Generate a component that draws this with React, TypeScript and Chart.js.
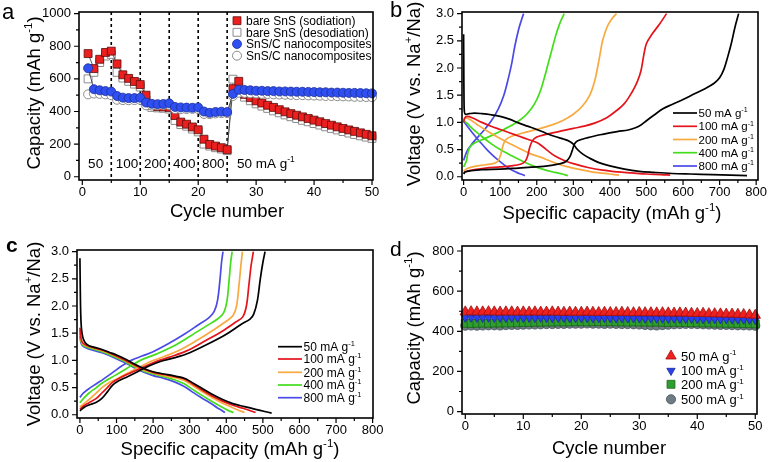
import React, { useEffect, useRef } from 'react';
import { Chart, registerables } from 'chart.js';
Chart.register(...registerables);

const FONT = '"Liberation Sans", Arial, Helvetica, sans-serif';

// ---------------- Panel a : rate capability ----------------
const cyclesA = [1, 2, 3, 4, 5, 6, 7, 8, 9, 10, 11, 12, 13, 14, 15, 16, 17, 18, 19, 20, 21, 22, 23, 24, 25,
  26, 27, 28, 29, 30, 31, 32, 33, 34, 35, 36, 37, 38, 39, 40, 41, 42, 43, 44, 45, 46, 47, 48, 49, 50];
const bareSodiation = [755, 663, 720, 762, 770, 692, 625, 603, 584, 565, 500, 440, 430, 428, 425, 375, 335, 322, 305, 288,
  230, 198, 188, 178, 166, 540, 585, 505, 485, 465, 452, 438, 425, 411, 398, 387, 377, 367, 357, 347,
  337, 326, 316, 306, 296, 287, 278, 269, 260, 251];
const bareDesodiation = [600, 640, 700, 740, 750, 640, 605, 585, 568, 550, 470, 425, 422, 420, 415, 345, 320, 310, 292, 275,
  200, 188, 178, 170, 160, 598, 545, 488, 466, 447, 433, 419, 404, 392, 379, 368, 357, 346, 337, 326,
  317, 306, 296, 287, 277, 268, 259, 251, 243, 235];
const compositeSodiation = [665, 537, 530, 525, 522, 495, 485, 482, 482, 484, 455, 447, 445, 446, 450, 428, 425, 424, 423, 425,
  400, 392, 397, 399, 397, 508, 533, 532, 530, 527, 527, 525, 525, 523, 523, 522, 521, 521, 520, 519,
  518, 518, 516, 516, 515, 514, 514, 513, 512, 511];
const compositeDesodiation = [505, 510, 508, 505, 500, 472, 470, 469, 470, 472, 438, 437, 438, 440, 440, 415, 414, 415, 416, 415,
  385, 384, 388, 390, 390, 495, 515, 514, 512, 510, 508, 507, 505, 504, 503, 502, 500, 500, 499, 498,
  497, 495, 495, 494, 493, 492, 490, 490, 489, 488];
const legendA = ['bare SnS (sodiation)', 'bare SnS (desodiation)', 'SnS/C nanocomposites', 'SnS/C nanocomposites'];
const rateDividers = [5, 10, 15, 20, 25];
const rateLabels = ['50', '100', '200', '400', '800'];
const rateLabelCycles = [2.3, 7.7, 12.6, 17.6, 22.6];
const lastRateLabelCycle = 26.7;
const rateLabelLevel = 55;
const cycleTicks = [0, 10, 20, 30, 40, 50];
const capacityTicksA = [0, 200, 400, 600, 800, 1000];

// ---------------- Panel b : bare SnS voltage profiles ----------------
type XY = [number, number][];
const b50Dis: XY = [[0, 2.62], [0.5, 2.0], [1, 1.5], [2, 1.2], [5, 1.15], [15, 1.16], [30, 1.17], [50, 1.16], [75, 1.14], [100, 1.11],
  [125, 1.06], [150, 0.99], [175, 0.93], [200, 0.87], [225, 0.8], [250, 0.74], [275, 0.69], [290, 0.65], [300, 0.6], [310, 0.51],
  [325, 0.42], [345, 0.34], [370, 0.26], [400, 0.2], [440, 0.14], [480, 0.1], [520, 0.08], [570, 0.06], [620, 0.05], [680, 0.04],
  [730, 0.03], [775, 0.02]];
const b50Chg: XY = [[0, 0.05], [5, 0.09], [20, 0.11], [50, 0.13], [100, 0.14], [150, 0.16], [200, 0.18], [240, 0.21], [265, 0.24],
  [280, 0.28], [290, 0.36], [297, 0.48], [303, 0.6], [312, 0.66], [340, 0.72], [380, 0.78], [420, 0.83], [450, 0.86], [470, 0.9],
  [485, 0.95], [500, 1.03], [520, 1.13], [545, 1.25], [570, 1.33], [600, 1.42], [630, 1.52], [660, 1.62], [685, 1.72], [700, 1.82],
  [712, 1.98], [722, 2.2], [732, 2.45], [742, 2.75], [752, 3.0]];
const b100Dis: XY = [[0, 1.0], [3, 1.08], [10, 1.11], [25, 1.08], [50, 1.0], [75, 0.93], [100, 0.87], [125, 0.81], [150, 0.75],
  [175, 0.69], [200, 0.63], [215, 0.56], [230, 0.48], [250, 0.38], [275, 0.3], [300, 0.24], [340, 0.17], [380, 0.12], [420, 0.09],
  [460, 0.07], [500, 0.05], [540, 0.04], [565, 0.03]];
const b100Chg: XY = [[0, 0.07], [10, 0.1], [30, 0.13], [60, 0.16], [100, 0.18], [130, 0.2], [155, 0.23], [168, 0.28], [175, 0.38],
  [180, 0.52], [188, 0.66], [200, 0.73], [225, 0.78], [260, 0.83], [300, 0.89], [330, 0.93], [360, 0.99], [390, 1.08], [415, 1.2],
  [440, 1.35], [460, 1.55], [475, 1.75], [485, 1.95], [493, 2.25], [500, 2.45], [515, 2.62], [535, 2.8], [555, 3.0]];
const b200Dis: XY = [[0, 1.03], [5, 1.08], [15, 1.06], [35, 0.97], [60, 0.86], [90, 0.74], [120, 0.63], [150, 0.53], [180, 0.43],
  [210, 0.36], [240, 0.28], [280, 0.19], [320, 0.13], [360, 0.08], [400, 0.05], [425, 0.03]];
const b200Chg: XY = [[0, 0.1], [10, 0.15], [30, 0.19], [60, 0.22], [85, 0.25], [95, 0.3], [102, 0.42], [108, 0.58], [115, 0.68],
  [130, 0.74], [160, 0.8], [200, 0.87], [240, 0.95], [270, 1.03], [300, 1.15], [325, 1.3], [345, 1.5], [358, 1.75], [366, 2.0],
  [373, 2.25], [380, 2.5], [392, 2.75], [405, 2.9], [418, 3.0]];
const b400Dis: XY = [[0, 1.04], [10, 0.98], [25, 0.88], [50, 0.74], [75, 0.61], [100, 0.5], [130, 0.39], [160, 0.29], [190, 0.2],
  [220, 0.13], [250, 0.08], [270, 0.05], [285, 0.02]];
const b400Chg: XY = [[0, 0.18], [3, 0.22], [8, 0.3], [12, 0.45], [18, 0.55], [30, 0.62], [50, 0.68], [80, 0.77], [110, 0.87],
  [140, 0.98], [165, 1.1], [185, 1.25], [200, 1.42], [212, 1.62], [222, 1.85], [232, 2.1], [242, 2.35], [252, 2.6], [263, 2.82], [275, 3.0]];
const b800Dis: XY = [[0, 1.02], [10, 0.93], [25, 0.8], [45, 0.64], [65, 0.49], [85, 0.36], [105, 0.25], [125, 0.15], [145, 0.08],
  [160, 0.04], [168, 0.02]];
const b800Chg: XY = [[0, 0.3], [4, 0.38], [10, 0.48], [20, 0.58], [35, 0.7], [55, 0.85], [75, 1.02], [95, 1.25], [110, 1.5],
  [122, 1.8], [132, 2.1], [140, 2.4], [150, 2.7], [158, 2.88], [164, 3.0]];

// ---------------- Panel c : SnS/C voltage profiles ----------------
const c50Dis: XY = [[0, 2.88], [1, 2.3], [2, 1.9], [4, 1.6], [8, 1.42], [15, 1.32], [25, 1.27], [40, 1.24], [60, 1.2], [80, 1.15],
  [100, 1.1], [125, 1.02], [150, 0.93], [175, 0.85], [200, 0.79], [230, 0.75], [260, 0.71], [285, 0.67], [305, 0.6], [330, 0.5],
  [360, 0.38], [390, 0.28], [420, 0.2], [450, 0.15], [480, 0.1], [505, 0.06], [524, 0.03]];
const c50Chg: XY = [[0, 0.07], [10, 0.13], [25, 0.18], [45, 0.23], [60, 0.3], [75, 0.42], [90, 0.55], [105, 0.62], [130, 0.7],
  [160, 0.8], [190, 0.9], [220, 0.98], [260, 1.05], [300, 1.14], [350, 1.3], [400, 1.48], [440, 1.66], [465, 1.76], [475, 1.85],
  [485, 2.1], [493, 2.5], [500, 2.8], [506, 3.0]];
const c100Dis: XY = [[0, 1.6], [3, 1.4], [8, 1.32], [20, 1.27], [40, 1.23], [60, 1.19], [80, 1.14], [100, 1.08], [125, 1.0],
  [150, 0.91], [175, 0.84], [200, 0.78], [230, 0.74], [260, 0.7], [285, 0.66], [305, 0.58], [330, 0.47], [360, 0.35], [390, 0.25],
  [420, 0.17], [450, 0.11], [480, 0.04]];
const c100Chg: XY = [[0, 0.1], [10, 0.16], [25, 0.22], [45, 0.3], [60, 0.4], [75, 0.5], [90, 0.6], [110, 0.68], [135, 0.76],
  [165, 0.85], [205, 0.97], [245, 1.06], [290, 1.17], [340, 1.35], [390, 1.54], [425, 1.7], [445, 1.8], [455, 2.0], [462, 2.4],
  [468, 2.75], [474, 3.0]];
const c200Dis: XY = [[0, 1.55], [3, 1.38], [8, 1.3], [20, 1.26], [40, 1.22], [60, 1.18], [80, 1.13], [100, 1.07], [125, 0.99],
  [150, 0.9], [175, 0.82], [200, 0.77], [230, 0.72], [260, 0.68], [285, 0.63], [305, 0.55], [330, 0.44], [360, 0.32], [390, 0.21],
  [420, 0.12], [450, 0.04]];
const c200Chg: XY = [[0, 0.14], [10, 0.2], [25, 0.28], [45, 0.4], [60, 0.5], [75, 0.57], [95, 0.64], [120, 0.73], [150, 0.83],
  [190, 0.97], [230, 1.07], [270, 1.18], [320, 1.37], [365, 1.56], [400, 1.72], [418, 1.82], [428, 2.0], [435, 2.4], [440, 2.75], [444, 3.0]];
const c400Dis: XY = [[0, 1.5], [3, 1.35], [8, 1.28], [20, 1.24], [40, 1.2], [60, 1.16], [80, 1.11], [100, 1.05], [125, 0.97],
  [150, 0.88], [175, 0.8], [200, 0.75], [230, 0.7], [260, 0.64], [285, 0.57], [305, 0.48], [330, 0.37], [360, 0.25], [385, 0.15],
  [405, 0.08], [420, 0.04]];
const c400Chg: XY = [[0, 0.22], [10, 0.3], [25, 0.4], [45, 0.5], [60, 0.58], [80, 0.66], [105, 0.76], [135, 0.88], [165, 1.0],
  [210, 1.12], [255, 1.26], [300, 1.44], [345, 1.63], [378, 1.77], [393, 1.88], [402, 2.1], [408, 2.5], [412, 2.8], [416, 3.0]];
const c800Dis: XY = [[0, 1.45], [3, 1.32], [8, 1.26], [20, 1.22], [40, 1.18], [60, 1.14], [80, 1.09], [100, 1.03], [125, 0.95],
  [150, 0.86], [175, 0.78], [200, 0.72], [230, 0.67], [260, 0.6], [285, 0.52], [305, 0.43], [330, 0.32], [355, 0.22], [375, 0.13],
  [390, 0.07], [396, 0.04]];
const c800Chg: XY = [[0, 0.32], [10, 0.4], [25, 0.48], [45, 0.57], [65, 0.66], [90, 0.78], [115, 0.9], [140, 1.0], [170, 1.08],
  [200, 1.16], [240, 1.3], [285, 1.48], [325, 1.66], [352, 1.78], [367, 1.9], [376, 2.1], [383, 2.5], [387, 2.8], [391, 3.0]];

const rateNames = ['50', '100', '200', '400', '800'];
const rateColors = ['#000000', '#e3141b', '#f8a940', '#44dd1c', '#4a4ae6'];
const specificCapacityTicks = [0, 100, 200, 300, 400, 500, 600, 700, 800];
const voltageTicks = [0, 0.5, 1.0, 1.5, 2.0, 2.5, 3.0];

// ---------------- Panel d : cycling at fixed rates ----------------
const cyclesD = [0, 1, 2, 3, 4, 5, 6, 7, 8, 9, 10, 11, 12, 13, 14, 15, 16, 17, 18, 19, 20, 21, 22, 23, 24, 25,
  26, 27, 28, 29, 30, 31, 32, 33, 34, 35, 36, 37, 38, 39, 40, 41, 42, 43, 44, 45, 46, 47, 48, 49, 50];
const cap50 = [497, 498, 497, 497, 498, 497, 496, 497, 497, 496, 497, 496, 497, 496, 496, 497, 496, 495, 496, 495, 495, 496, 495,
  494, 495, 494, 494, 495, 494, 493, 494, 493, 493, 492, 493, 492, 491, 492, 491, 490, 489, 490, 488, 488, 487, 486, 486, 485, 484, 482, 480];
const cap100 = [468, 469, 468, 468, 469, 468, 468, 467, 468, 468, 467, 468, 467, 468, 467, 467, 468, 467, 466, 467, 466, 467, 466,
  466, 467, 466, 465, 466, 465, 466, 465, 464, 465, 464, 464, 463, 464, 463, 462, 463, 462, 461, 462, 461, 460, 461, 460, 459, 459, 458, 457];
const cap200 = [440, 439, 440, 441, 440, 441, 441, 442, 442, 443, 444, 444, 445, 445, 446, 446, 447, 447, 447, 448, 448, 447, 448,
  448, 447, 448, 447, 447, 446, 447, 446, 446, 445, 446, 445, 444, 445, 444, 444, 443, 443, 442, 442, 441, 441, 440, 440, 439, 439, 438, 437];
const cap500 = [428, 429, 428, 429, 430, 430, 429, 431, 432, 432, 433, 434, 434, 435, 436, 436, 437, 437, 438, 438, 438, 439, 438,
  438, 437, 438, 437, 436, 436, 435, 434, 432, 430, 429, 431, 433, 435, 436, 437, 437, 436, 435, 434, 433, 432, 432, 431, 430, 430, 429, 428];
const legendD = ['50', '100', '200', '500'];
const capacityTicksD = [0, 200, 400, 600, 800];

// ---------------- helpers ----------------
type Seg = [string, boolean?];
function rich(ctx: CanvasRenderingContext2D, segs: Seg[], x: number, y: number, size: number, align: 'left' | 'center', weight = 'normal') {
  const sup = size * 0.62;
  let w = 0;
  for (const [t, s] of segs) { ctx.font = `${weight} ${s ? sup : size}px ${FONT}`; w += ctx.measureText(t).width; }
  let cx = align === 'center' ? x - w / 2 : x;
  ctx.textAlign = 'left';
  ctx.textBaseline = 'alphabetic';
  for (const [t, s] of segs) {
    ctx.font = `${weight} ${s ? sup : size}px ${FONT}`;
    ctx.fillText(t, cx, s ? y - size * 0.42 : y);
    cx += ctx.measureText(t).width;
  }
}
function richRot(ctx: CanvasRenderingContext2D, segs: Seg[], x: number, y: number, size: number) {
  ctx.save();
  ctx.translate(x, y);
  ctx.rotate(-Math.PI / 2);
  rich(ctx, segs, 0, 0, size, 'center');
  ctx.restore();
}
function marker(ctx: CanvasRenderingContext2D, style: string, x: number, y: number, r: number, fill: string, stroke: string, lw: number, rot = 0) {
  ctx.save();
  ctx.fillStyle = fill; ctx.strokeStyle = stroke; ctx.lineWidth = lw;
  ctx.beginPath();
  if (style === 'rect') {
    const s = r * Math.SQRT1_2;
    ctx.rect(x - s, y - s, 2 * s, 2 * s);
  } else if (style === 'circle') {
    ctx.arc(x, y, r, 0, Math.PI * 2);
  } else {
    let a = (rot * Math.PI) / 180;
    ctx.moveTo(x + Math.sin(a) * r, y - Math.cos(a) * r);
    a += (2 * Math.PI) / 3;
    ctx.lineTo(x + Math.sin(a) * r, y - Math.cos(a) * r);
    a += (2 * Math.PI) / 3;
    ctx.lineTo(x + Math.sin(a) * r, y - Math.cos(a) * r);
    ctx.closePath();
  }
  ctx.fill();
  ctx.stroke();
  ctx.restore();
}
const unitSegs = (rate: string): Seg[] => [[`${rate} mA g`], ['-1', true]];

function axis(pos: 'left' | 'bottom', min: number, max: number, tickValues: number[], fixed: number, pad: number, fmt: (v: number) => string) {
  return {
    type: 'linear',
    position: pos,
    min, max,
    grid: { display: false, drawTicks: false, tickLength: 0 },
    border: { display: false },
    ticks: {
      autoSkip: false, maxRotation: 0, minRotation: 0,
      padding: pad, color: '#000', font: { family: FONT, size: 13 },
      callback: (v: any) => fmt(Number(v)),
    },
    afterBuildTicks: (s: any) => { s.ticks = tickValues.map((v) => ({ value: v })); },
    afterFit: (s: any) => {
      if (pos === 'left') s.width = fixed; else s.height = fixed;
      s.paddingLeft = 0; s.paddingRight = 0; s.paddingTop = 0; s.paddingBottom = 0;
    },
  };
}

function drawFrame(chart: any, minorX: number, minorY: number) {
  const { ctx, chartArea: ca, scales } = chart;
  const xs = scales.x, ys = scales.y;
  ctx.save();
  ctx.strokeStyle = '#000';
  ctx.lineWidth = 1.2;
  ctx.beginPath();
  const nx0 = Math.ceil(xs.min / minorX), nx1 = Math.floor(xs.max / minorX);
  for (let i = nx0; i <= nx1; i++) {
    const p = xs.getPixelForValue(i * minorX);
    const len = i % 2 === 0 ? 5 : 3;
    ctx.moveTo(p, ca.bottom); ctx.lineTo(p, ca.bottom + len);
  }
  const ny0 = Math.ceil(ys.min / minorY), ny1 = Math.floor(ys.max / minorY);
  for (let i = ny0; i <= ny1; i++) {
    const p = ys.getPixelForValue(i * minorY);
    const len = i % 2 === 0 ? 5 : 3;
    ctx.moveTo(ca.left, p); ctx.lineTo(ca.left - len, p);
  }
  ctx.stroke();
  ctx.lineWidth = 1.6;
  ctx.strokeRect(ca.left, ca.top, ca.right - ca.left, ca.bottom - ca.top);
  ctx.restore();
}

const baseOptions = (x: any, y: any, padding: any) => ({
  responsive: false,
  animation: false,
  devicePixelRatio: 1,
  events: [],
  layout: { padding },
  plugins: { legend: { display: false }, tooltip: { enabled: false } },
  scales: { x, y },
});

const fmtInt = (v: number) => String(Math.round(v));
const fmt1 = (v: number) => v.toFixed(1);
const toPts = (xy: XY) => xy.map(([x, y]) => ({ x, y }));

// ---------------- configs ----------------
function configA() {
  const mk = (vals: number[]) => cyclesA.map((c, i) => ({ x: c, y: vals[i] }));
  const ds = [
    { data: mk(compositeSodiation), pointStyle: 'circle', pointRadius: 4.5, pointBackgroundColor: '#2f4ff0', pointBorderColor: '#1d2f9a', pointBorderWidth: 0.8, borderColor: '#333', order: 0 },
    { data: mk(compositeDesodiation), pointStyle: 'circle', pointRadius: 4.5, pointBackgroundColor: '#ffffff', pointBorderColor: '#8a8a8a', pointBorderWidth: 1, borderColor: '#666', order: 1 },
    { data: mk(bareSodiation), pointStyle: 'rect', pointRadius: 5.6, pointBackgroundColor: '#ec1f1f', pointBorderColor: '#5a0d0d', pointBorderWidth: 0.8, borderColor: '#333', order: 2 },
    { data: mk(bareDesodiation), pointStyle: 'rect', pointRadius: 5.6, pointBackgroundColor: '#ffffff', pointBorderColor: '#8c8c8c', pointBorderWidth: 1, borderColor: '#666', order: 3 },
  ].map((d) => ({ ...d, showLine: true, borderWidth: 0.8, tension: 0, clip: false, pointHoverRadius: d.pointRadius }));
  return {
    type: 'line',
    data: { datasets: ds },
    options: baseOptions(
      axis('bottom', -0.57, 50.17, cycleTicks, 51, 5, fmtInt),
      axis('left', -20, 1010, capacityTicksA, 79, 8, fmtInt),
      { left: 0, top: 12, right: 12, bottom: 0 }),
    plugins: [{
      id: 'decorA',
      beforeDatasetsDraw(chart: any) {
        const { ctx, chartArea: ca, scales } = chart;
        ctx.save();
        ctx.strokeStyle = '#000'; ctx.lineWidth = 1.6; ctx.setLineDash([3, 3]);
        ctx.beginPath();
        for (const c of rateDividers) { const p = scales.x.getPixelForValue(c); ctx.moveTo(p, ca.top); ctx.lineTo(p, ca.bottom); }
        ctx.stroke();
        ctx.restore();
      },
      afterDraw(chart: any) {
        const { ctx, scales } = chart;
        drawFrame(chart, 5, 100);
        ctx.save();
        ctx.fillStyle = '#000';
        const ly = scales.y.getPixelForValue(rateLabelLevel);
        rateLabels.forEach((t, i) => rich(ctx, [[t]], scales.x.getPixelForValue(rateLabelCycles[i]), ly, 13.5, 'center'));
        rich(ctx, unitSegs('50'), scales.x.getPixelForValue(lastRateLabelCycle), ly, 13.5, 'left');
        // legend
        const rows = [20.7, 32.3, 44, 55.7];
        marker(ctx, 'rect', 237, rows[0], 5.6, '#ec1f1f', '#5a0d0d', 0.8);
        marker(ctx, 'rect', 237, rows[1], 5.6, '#ffffff', '#8c8c8c', 1);
        marker(ctx, 'circle', 237, rows[2], 4.5, '#2f4ff0', '#1d2f9a', 0.8);
        marker(ctx, 'circle', 237, rows[3], 4.5, '#ffffff', '#8a8a8a', 1);
        ctx.fillStyle = '#000';
        legendA.forEach((t, i) => rich(ctx, [[t]], 246, rows[i] + 4.3, 12, 'left'));
        // titles
        rich(ctx, [['a']], 2, 18.5, 22, 'left');
        rich(ctx, [['Cycle number']], 227, 217, 18.5, 'center');
        richRot(ctx, [['Capacity (mAh g'], ['-1', true], [')']], 39.5, 93, 18.5);
        ctx.restore();
      },
    }],
  };
}

function profileDatasets(dis: XY[], chg: XY[]) {
  const out: any[] = [];
  rateColors.forEach((col, i) => {
    for (const xy of [dis[i], chg[i]]) {
      out.push({ data: toPts(xy), borderColor: col, borderWidth: 1.7, pointRadius: 0, tension: 0.35, clip: false, order: i });
    }
  });
  return out;
}

function profileConfig(dis: XY[], chg: XY[], xmin: number, xmax: number, xAxisH: number, yAxisW: number, pad: any,
  letter: { t: string; x: number; y: number; size: number; weight: string }, xTitle: [number, number], yTitle: [number, number],
  legendX: number, legendRows: number[], legendSize: number) {
  return {
    type: 'line',
    data: { datasets: profileDatasets(dis, chg) },
    options: baseOptions(
      axis('bottom', xmin, xmax, specificCapacityTicks, xAxisH, 5, fmtInt),
      axis('left', -0.06, 3.03, voltageTicks, yAxisW, 8, fmt1),
      pad),
    plugins: [{
      id: 'decorProfile',
      afterDraw(chart: any) {
        const { ctx } = chart;
        drawFrame(chart, 50, 0.25);
        ctx.save();
        ctx.lineWidth = 1.7;
        rateNames.forEach((r, i) => {
          ctx.strokeStyle = rateColors[i];
          ctx.beginPath(); ctx.moveTo(legendX, legendRows[i]); ctx.lineTo(legendX + 24, legendRows[i]); ctx.stroke();
          ctx.fillStyle = '#000';
          rich(ctx, unitSegs(r), legendX + 25.5, legendRows[i] + legendSize * 0.36, legendSize, 'left');
        });
        ctx.fillStyle = '#000';
        rich(ctx, [[letter.t]], letter.x, letter.y, letter.size, 'left', letter.weight);
        rich(ctx, [['Specific capacity (mAh g'], ['-1', true], [')']], xTitle[0], xTitle[1], 18.5, 'center');
        richRot(ctx, [['Voltage (V vs. Na'], ['+', true], ['/Na)']], yTitle[0], yTitle[1], 18.5);
        ctx.restore();
      },
    }],
  };
}

function configB() {
  return profileConfig(
    [b50Dis, b100Dis, b200Dis, b400Dis, b800Dis], [b50Chg, b100Chg, b200Chg, b400Chg, b800Chg],
    -4.4, 805, 51, 77, { left: 0, top: 12, right: 11, bottom: 0 },
    { t: 'b', x: 5, y: 17, size: 22, weight: 'normal' }, [227, 218.7], [35, 94],
    288, [113, 126.3, 139.5, 152.7, 166], 11.5);
}

function configC() {
  return profileConfig(
    [c50Dis, c100Dis, c200Dis, c400Dis, c800Dis], [c50Chg, c100Chg, c200Chg, c400Chg, c800Chg],
    -8, 801, 44, 77, { left: 0, top: 19, right: 12, bottom: 0 },
    { t: 'c', x: 6, y: 20.7, size: 21, weight: 'bold' }, [230, 224], [40, 103],
    278, [115.7, 128, 141.3, 154, 166.7], 12);
}

function configD() {
  const mk = (vals: number[]) => cyclesD.map((c, i) => ({ x: c, y: vals[i] }));
  const styles = [
    { pointStyle: 'triangle', pointRadius: 6, pointRotation: 0, pointBackgroundColor: '#ee2020', pointBorderColor: '#a01010' },
    { pointStyle: 'triangle', pointRadius: 4.8, pointRotation: 180, pointBackgroundColor: '#2b40ec', pointBorderColor: '#1a2a9a' },
    { pointStyle: 'rect', pointRadius: 5.6, pointRotation: 0, pointBackgroundColor: '#2e9e2e', pointBorderColor: '#1b641b' },
    { pointStyle: 'circle', pointRadius: 4.6, pointRotation: 0, pointBackgroundColor: '#6e7c84', pointBorderColor: '#45525a' },
  ];
  const vals = [cap50, cap100, cap200, cap500];
  const ds = vals.map((v, i) => ({ data: mk(v), ...styles[i], pointBorderWidth: 0.8, showLine: false, clip: false, order: i }));
  return {
    type: 'line',
    data: { datasets: ds },
    options: baseOptions(
      axis('bottom', -0.57, 50.3, cycleTicks, 48, 5, fmtInt),
      axis('left', -12, 825, capacityTicksD, 77, 8, fmtInt),
      { left: 0, top: 15, right: 12, bottom: 0 }),
    plugins: [{
      id: 'decorD',
      afterDraw(chart: any) {
        const { ctx } = chart;
        drawFrame(chart, 5, 100);
        ctx.save();
        const rows = [125, 139.7, 153.3, 168.3];
        rows.forEach((y, i) => {
          const s = styles[i];
          marker(ctx, s.pointStyle, 286, y, s.pointRadius, s.pointBackgroundColor, s.pointBorderColor, 0.8, s.pointRotation);
          ctx.fillStyle = '#000';
          rich(ctx, unitSegs(legendD[i]), 296, y + 4.7, 13, 'left');
        });
        ctx.fillStyle = '#000';
        rich(ctx, [['d']], 5, 25, 21, 'left');
        rich(ctx, [['Cycle number']], 224, 223, 18.5, 'center');
        richRot(ctx, [['Capacity (mAh g'], ['-1', true], [')']], 35, 97, 18.5);
        ctx.restore();
      },
    }],
  };
}

function ChartBox({ left, top, width, height, make }: { left: number; top: number; width: number; height: number; make: () => any }) {
  const ref = useRef<HTMLCanvasElement>(null);
  useEffect(() => {
    const chart = new Chart(ref.current as HTMLCanvasElement, make());
    return () => chart.destroy();
  }, []);
  return (
    <div style={{ position: 'absolute', left, top, width, height }}>
      <canvas ref={ref} width={width} height={height} style={{ display: 'block', width, height }} />
    </div>
  );
}

export default function App() {
  return (
    <div style={{ position: 'absolute', left: 0, top: 0, width: 769, height: 462, background: '#fff' }}>
      <ChartBox left={0} top={0} width={385} height={231} make={configA} />
      <ChartBox left={385} top={0} width={384} height={231} make={configB} />
      <ChartBox left={0} top={231} width={385} height={231} make={configC} />
      <ChartBox left={385} top={231} width={384} height={231} make={configD} />
    </div>
  );
}
